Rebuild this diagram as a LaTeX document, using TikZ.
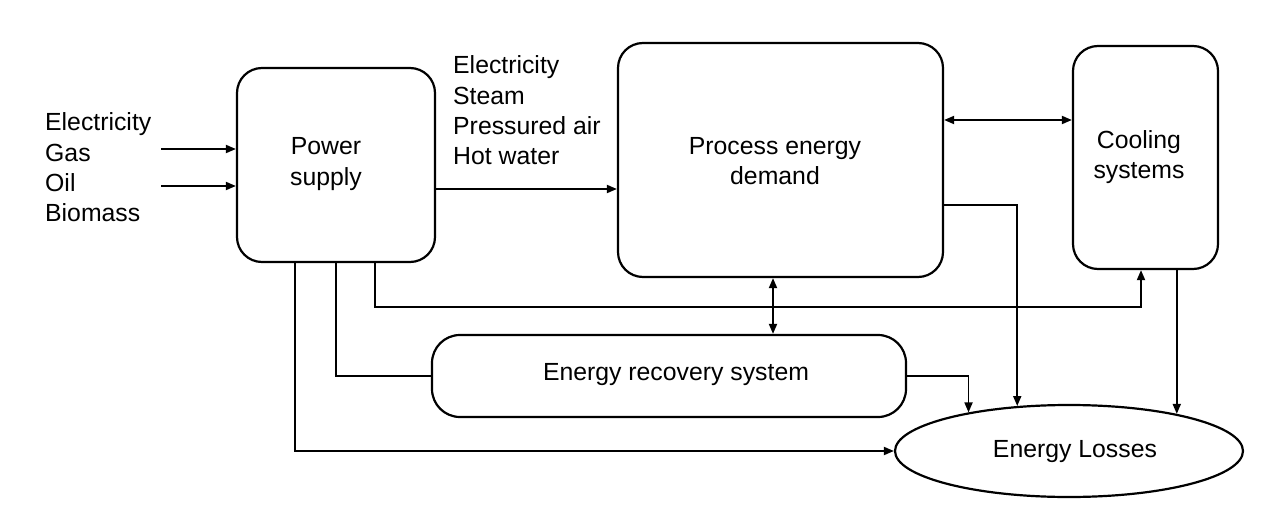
\documentclass[tikz,border=0pt]{standalone}
\usepackage{fontspec}
\setmainfont{Liberation Sans}
\usetikzlibrary{arrows.meta,shapes.geometric}
\begin{document}
\begin{tikzpicture}[x=1pt,y=-1pt,
  txt/.style={font=\fontsize{24.8}{30.3}\selectfont, inner sep=0pt},
  boxnode/.style={draw, line width=2.2pt, rounded corners=25pt},
  conn/.style={line width=1.8pt},
  arr/.style={conn, -{Triangle[length=10pt,width=8pt]}},
  darr/.style={conn, {Triangle[length=10pt,width=8pt]}-{Triangle[length=10pt,width=8pt]}}]
\useasboundingbox (0,0) rectangle (1270,516);
\fill[white] (0,0) rectangle (1270,516);

% shapes
\node[boxnode, minimum width=198pt, minimum height=194pt] (ps) at (336,165) {};
\node[boxnode, minimum width=325pt, minimum height=234pt] (pe) at (780.5,160) {};
\node[boxnode, minimum width=145pt, minimum height=223pt] (cs) at (1145.5,157.5) {};
\node[boxnode, rounded corners=28pt, minimum width=474pt, minimum height=82pt] (ers) at (669,376) {};
\node[draw, ellipse, line width=2.2pt, minimum width=348pt, minimum height=92pt] (el) at (1069,451) {};

% texts
\node[txt, align=center] (psT) at (326,164) {Power\\supply};
\node[txt, align=center] (peT) at (775,161) {Process energy\\demand};
\node[txt, align=center] (csT) at (1139,157) {Cooling\\systems};
\node[txt] (ersT) at (676,375) {Energy recovery system};
\node[txt] (elT) at (1075,452) {Energy Losses};
\node[txt, anchor=west, align=left] (inl) at (45,167.5) {Electricity\\Gas\\Oil\\Biomass};
\node[txt, anchor=west, align=left] (outl) at (453,110.5) {Electricity\\Steam\\Pressured air\\Hot water};

% helper coordinates
\coordinate (g0) at (161,149);
\coordinate (o0) at (161,186);
\coordinate (m0) at (0,189);
\coordinate (c0) at (0,120);
\coordinate (p0) at (0,205);
\coordinate (v0) at (773,0);
\coordinate (k1) at (375,307);
\coordinate (k2) at (1141,307);
\coordinate (e1) at (336,0);
\coordinate (l1) at (295,0);

% connectors
\draw[arr] (g0) -- (g0 -| ps.west);
\draw[arr] (o0) -- (o0 -| ps.west);
\draw[arr] (ps.east |- m0) -- (pe.west |- m0);
\draw[darr] (pe.east |- c0) -- (cs.west |- c0);
\draw[arr] (pe.east |- p0) -| (el.139.2);
\draw[darr] (pe.south -| v0) -- (ers.north -| v0);
\draw[arr] (ps.south -| k1) -- (k1) -- (k2) -- (k2 |- cs.south);
\draw[conn] (ps.south -| e1) |- (ers.west);
\draw[arr] (ps.south -| l1) |- (el.west);
\draw[arr] (ers.east) -| (el.159.6);
\draw[arr] (el.19 |- cs.south) -- (el.19);
\end{tikzpicture}
\end{document}
